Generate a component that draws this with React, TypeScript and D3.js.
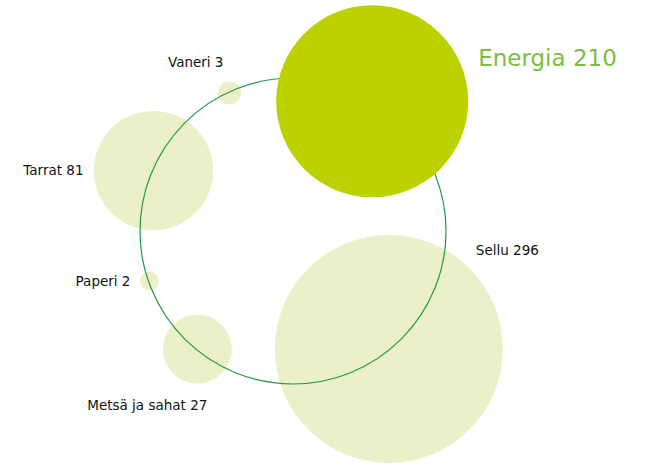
import React, { useRef, useEffect } from "react";
import * as d3 from "d3";

// data
const names = ["Energia", "Sellu", "Metsä ja sahat", "Paperi", "Tarrat", "Vaneri"];
const values = [210, 296, 27, 2, 81, 3];

// layout: angle of each bubble on the ring (degrees, clockwise from east)
const angles = [-58.6, 50.9, 129, 160.8, -156.6, -114.7];

function App() {
  const ref = useRef<SVGSVGElement>(null);

  useEffect(() => {
    const svg = d3.select(ref.current);
    svg.selectAll("*").remove();

    const cx = 293;
    const cy = 231;
    const ringR = 152;

    const r = d3.scaleSqrt().domain([0, 210]).range([0, 96]);

    const nodes = names.map((name, i) => {
      const a = (angles[i] * Math.PI) / 180;
      return {
        name,
        value: values[i],
        x: cx + ringR * Math.cos(a),
        y: cy + ringR * Math.sin(a),
        r: r(values[i]),
      };
    });

    const light = nodes.filter((d) => d.name !== "Energia");
    const main = nodes.filter((d) => d.name === "Energia");

    svg
      .append("g")
      .selectAll("circle")
      .data(light)
      .enter()
      .append("circle")
      .attr("cx", (d) => d.x)
      .attr("cy", (d) => d.y)
      .attr("r", (d) => d.r)
      .style("fill", "#ebf0c9");

    svg
      .append("circle")
      .attr("cx", cx)
      .attr("cy", cy)
      .attr("r", ringR + 1)
      .style("fill", "none")
      .style("stroke", "#239a48")
      .style("stroke-width", 1.2);

    svg
      .append("g")
      .selectAll("circle")
      .data(main)
      .enter()
      .append("circle")
      .attr("cx", (d) => d.x)
      .attr("cy", (d) => d.y)
      .attr("r", (d) => d.r)
      .style("fill", "#bdd000");

    // labels: placement relative to each bubble
    const place: Record<string, { dx: number; dy: number; anchor: string }> = {
      Energia: { dx: 106, dy: -35, anchor: "start" },
      Sellu: { dx: 87, dy: -94, anchor: "start" },
      "Metsä ja sahat": { dx: 10, dy: 61, anchor: "end" },
      Paperi: { dx: -19, dy: 5, anchor: "end" },
      Tarrat: { dx: -70, dy: 4, anchor: "end" },
      Vaneri: { dx: -6, dy: -26, anchor: "end" },
    };

    svg
      .append("g")
      .selectAll("text")
      .data(nodes)
      .enter()
      .append("text")
      .attr("x", (d) => d.x + place[d.name].dx)
      .attr("y", (d) => d.y + place[d.name].dy)
      .attr("text-anchor", (d) => place[d.name].anchor)
      .text((d) => `${d.name} ${d.value}`)
      .style("font-family", "'DejaVu Sans', sans-serif")
      .style("font-size", (d) => (d.name === "Energia" ? "23px" : "13.5px"))
      .style("fill", (d) => (d.name === "Energia" ? "#79bf3f" : "#111"));
  }, []);

  return (
    <svg
      ref={ref}
      width={655}
      height={465}
      style={{ position: "absolute", left: 0, top: 0 }}
    ></svg>
  );
}

export default App;
